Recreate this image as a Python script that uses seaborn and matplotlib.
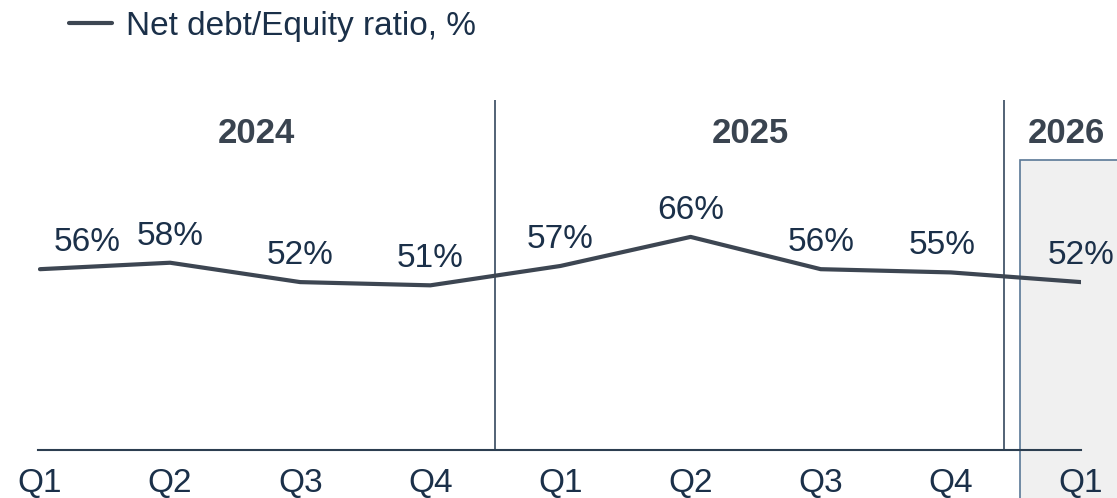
import numpy as np
import pandas as pd
import matplotlib
matplotlib.use("Agg")
import matplotlib.pyplot as plt
from matplotlib.patches import Rectangle
import seaborn as sns

# data
quarters = ['Q1', 'Q2', 'Q3', 'Q4', 'Q1', 'Q2', 'Q3', 'Q4', 'Q1']
years = ['2024', '2025', '2026']
ratio = [56, 58, 52, 51, 57, 66, 56, 55, 52]
label_text = [f"{v}%" for v in ratio]

df = pd.DataFrame({'pos': np.arange(len(ratio)), 'ratio': ratio})

sns.set_theme(style="white")
plt.rcParams['font.family'] = ['Liberation Sans', 'DejaVu Sans']

LINE = '#3d4652'
TEXT = '#1b3049'
YEARC = '#3a4450'
SEP = '#44566a'

fig = plt.figure(figsize=(11.17, 4.98), dpi=100)
ax = fig.add_axes([38 / 1117, 48 / 498, 1043 / 1117, 350 / 498])

sns.lineplot(data=df, x='pos', y='ratio', ax=ax, color=LINE, linewidth=3,
             label='Net debt/Equity ratio, %', zorder=4)

ax.set_xlim(-0.015, 8)
ax.set_ylim(0, 108.4)

# shaded box for 2026
box = Rectangle((7.53, -20), 1.0, 109.8, facecolor='#f0f0f0', edgecolor='#5a7896',
                linewidth=1.2, clip_on=False, zorder=0)
ax.add_patch(box)

# year separators
ax.axvline(3.5, color=SEP, linewidth=1.3, zorder=1)
ax.axvline(7.41, color=SEP, linewidth=1.3, zorder=1)

# year headers
for xpos, yr in zip([1.66, 5.46, 7.89], years):
    ax.text(xpos, 99, yr, ha='center', va='center_baseline', fontsize=25,
            fontweight='bold', color=YEARC)

# value labels
dx = [0.36, 0, 0, 0, 0, 0, 0, -0.07, 0]
for i, (v, t) in enumerate(zip(ratio, label_text)):
    ax.annotate(t, (i + dx[i], v), xytext=(0, 13), textcoords='offset points',
                ha='center', va='baseline', fontsize=24, color=TEXT)

# axes styling
for s in ['top', 'right', 'left']:
    ax.spines[s].set_visible(False)
ax.spines['bottom'].set_color('#2c3e50')
ax.spines['bottom'].set_linewidth(1.5)
ax.spines['bottom'].set_zorder(3)
ax.set_yticks([])
ax.set_xticks(df['pos'])
ax.set_xticklabels(quarters, fontsize=24, color=TEXT)
ax.tick_params(axis='x', length=0, pad=13)
ax.set_xlabel('')
ax.set_ylabel('')
ax.patch.set_alpha(0)

ax.legend_.remove()
handles, labels = ax.get_legend_handles_labels()
leg = fig.legend(handles, labels, loc='center left', bbox_to_anchor=(69 / 1117, 1 - 26 / 498),
                 frameon=False, fontsize=24, handlelength=1.3, handletextpad=0.4,
                 borderpad=0, borderaxespad=0)
for t in leg.get_texts():
    t.set_color(TEXT)

fig.savefig('out.png', dpi=100)
